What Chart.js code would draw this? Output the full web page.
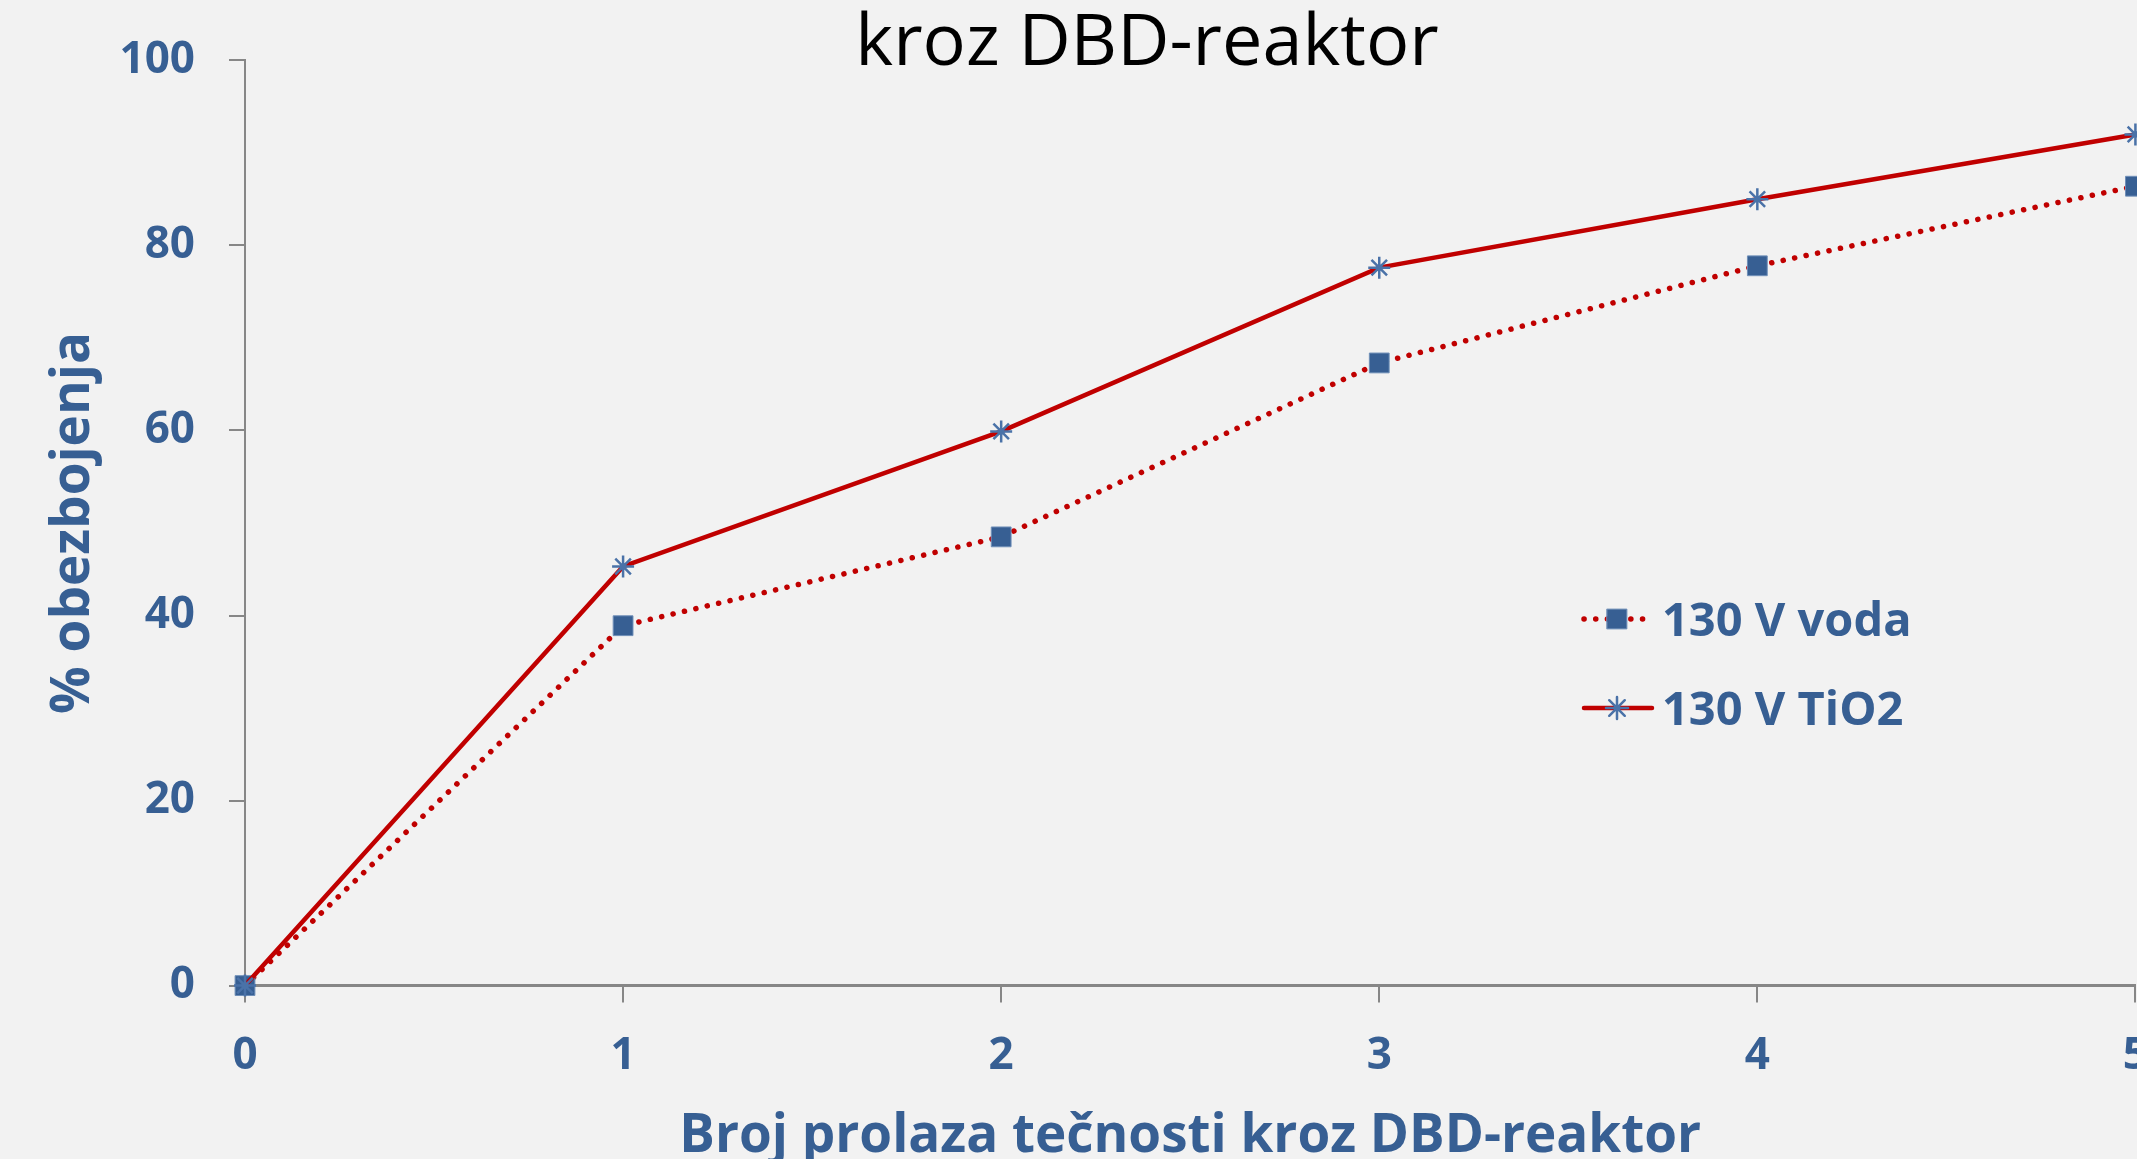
<!DOCTYPE html>
<html>
<head>
<meta charset="utf-8">
<script src="https://cdn.jsdelivr.net/npm/chart.js@4/dist/chart.umd.min.js"></script>
<style>
  html, body { margin: 0; padding: 0; background: #f2f2f2; overflow: hidden; }
  #wrap { position: relative; width: 2137px; height: 1159px; overflow: hidden; }
  #grafik { position: absolute; left: 0; top: 0; }
</style>
</head>
<body>
<div id="wrap"><canvas id="grafik" width="2175" height="1169"></canvas></div>
<script>
// PODACI
let prolazi = [0, 1, 2, 3, 4, 5];
let vodaVrednosti = [0, 38.9, 48.5, 67.3, 77.8, 86.4];
let tio2Vrednosti = [0, 45.3, 59.9, 77.6, 85.0, 92.0];
let nazivi = ["130 V voda", "130 V TiO2"];
let naslov = "kroz DBD-reaktor";
let naslovX = "Broj prolaza tečnosti kroz DBD-reaktor";
let naslovY = "% obezbojenja";

let plava = "#375f93";
let crvena = "#c00000";
let siva = "#878787";

function tacke(niz) {
  let rez = [];
  for (let i = 0; i < prolazi.length; i++) rez.push({ x: prolazi[i], y: niz[i] });
  return rez;
}

// naslov i legenda crtaju se rucno, jer je originalni grafik isecen
const naslovILegenda = {
  id: "naslovILegenda",
  afterDraw(chart) {
    const ctx = chart.ctx;
    ctx.save();
    ctx.fillStyle = "#000000";
    ctx.font = '72px "Open Sans"';
    ctx.textAlign = "center";
    ctx.textBaseline = "alphabetic";
    ctx.fillText(naslov, 1147, 65);

    // LEGENDA
    let redovi = [619, 708];
    for (let i = 0; i < 2; i++) {
      let ds = chart.data.datasets[i];
      let y = redovi[i];
      ctx.strokeStyle = crvena;
      ctx.lineWidth = ds.borderWidth;
      ctx.lineCap = "round";
      ctx.setLineDash(ds.borderDash || []);
      ctx.beginPath();
      ctx.moveTo(1584, y);
      ctx.lineTo(1652, y);
      ctx.stroke();
      ctx.setLineDash([]);
      ctx.fillStyle = ds.pointBackgroundColor;
      ctx.strokeStyle = ds.pointBorderColor;
      ctx.lineWidth = ds.pointBorderWidth;
      Chart.helpers.drawPoint(ctx, {
        pointStyle: ds.pointStyle,
        radius: ds.pointRadius,
        rotation: 0,
        borderWidth: ds.pointBorderWidth,
      }, 1617, y);
      ctx.fillStyle = plava;
      ctx.font = 'bold 47px "Open Sans"';
      ctx.textAlign = "left";
      ctx.textBaseline = "alphabetic";
      ctx.fillText(nazivi[i], 1662, y + 17);
    }
    ctx.restore();
  },
};

new Chart(document.getElementById("grafik"), {
  type: "line",
  data: {
    datasets: [
      {
        label: nazivi[0],
        data: tacke(vodaVrednosti),
        borderColor: crvena,
        borderWidth: 5.5,
        borderDash: [0.1, 11.6],
        borderCapStyle: "round",
        pointStyle: "rect",
        pointRadius: 14,
        pointBackgroundColor: plava,
        pointBorderColor: "#6f8fb8",
        pointBorderWidth: 1,
        tension: 0,
        clip: false,
        order: 2,
      },
      {
        label: nazivi[1],
        data: tacke(tio2Vrednosti),
        borderColor: crvena,
        borderWidth: 4.5,
        pointStyle: "star",
        pointRadius: 11,
        pointBackgroundColor: plava,
        pointBorderColor: "#4a72a8",
        pointBorderWidth: 2.5,
        tension: 0,
        clip: false,
        order: 1,
      },
    ],
  },
  options: {
    responsive: false,
    animation: false,
    layout: {
      autoPadding: false,
      padding: { top: 60, right: 3, left: 42, bottom: 0 },
    },
    plugins: {
      legend: { display: false },
      title: { display: false },
      tooltip: { enabled: false },
    },
    scales: {
      x: {
        type: "linear",
        min: 0,
        max: 5,
        afterFit: function (s) {
          s.height = s.height - 4;
        },
        ticks: {
          stepSize: 1,
          padding: 27,
          color: plava,
          font: { family: "Open Sans", size: 44, weight: "bold", lineHeight: 1.2 },
        },
        grid: {
          drawOnChartArea: false,
          drawTicks: true,
          tickLength: 17,
          color: siva,
          lineWidth: 2,
        },
        border: { color: siva, width: 3 },
        title: {
          display: true,
          text: naslovX,
          color: plava,
          padding: { top: 0, bottom: 0 },
          font: { family: "Open Sans", size: 53, weight: "bold", lineHeight: 1.2 },
        },
      },
      y: {
        min: 0,
        max: 100,
        afterFit: function (s) {
          s.width = 203;
        },
        ticks: {
          stepSize: 20,
          padding: 34,
          color: plava,
          font: { family: "Open Sans", size: 44, weight: "bold", lineHeight: 1.2 },
        },
        grid: {
          drawOnChartArea: false,
          drawTicks: true,
          tickLength: 16,
          color: siva,
          lineWidth: 2,
        },
        border: { color: siva, width: 2 },
        title: {
          display: true,
          text: naslovY,
          color: plava,
          padding: { top: 0, bottom: 0 },
          font: { family: "Open Sans", size: 53, weight: "bold", lineHeight: 1.2 },
        },
      },
    },
  },
  plugins: [naslovILegenda],
});
</script>
</body>
</html>
